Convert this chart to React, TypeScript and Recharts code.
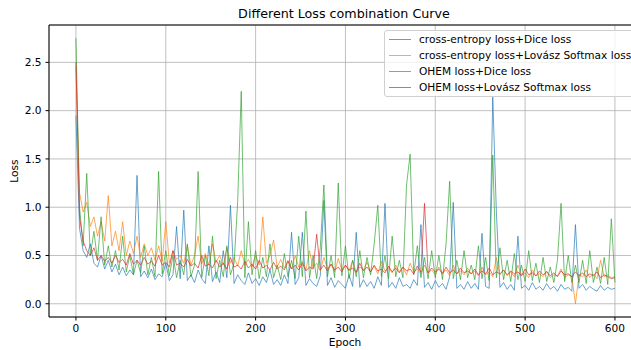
import { LineChart, Line, XAxis, YAxis, CartesianGrid, ReferenceLine } from 'recharts';

// Epochs sampled every 4 (0..600)
const epochs = Array.from({ length: 151 }, (_, i) => i * 4);

// cross-entropy loss + Dice loss
const ceDice = [
  1.95, 0.78, 0.55, 0.48, 0.62, 0.42, 0.38, 0.5, 0.36, 0.45,
  0.33, 0.41, 0.3, 0.38, 0.29, 0.35, 0.3, 1.33, 0.28, 0.34,
  0.27, 0.36, 0.25, 0.31, 0.28, 0.42, 0.24, 0.3, 0.8, 0.26,
  0.97, 0.24, 0.3, 0.22, 0.35, 0.26, 0.21, 0.6, 0.23, 0.33,
  0.22, 0.55, 0.27, 1.02, 0.21, 0.3, 0.24, 0.2, 0.32, 0.21,
  0.26, 0.19, 0.28, 0.22, 0.35, 0.2, 0.25, 0.19, 0.3, 0.21,
  0.74, 0.2, 0.27, 0.74, 0.19, 0.26, 0.21, 0.18, 0.29, 1.07,
  0.19, 0.27, 0.17, 0.24, 0.2, 0.16, 0.3, 0.18, 0.74, 0.17,
  0.25, 0.18, 0.23, 0.16, 0.28, 0.19, 1.04, 0.17, 0.22, 0.16,
  0.27, 0.18, 0.2, 0.16, 0.25, 0.19, 0.82, 0.17, 0.22, 0.15,
  0.24, 0.17, 0.21, 0.15, 0.28, 1.05, 0.16, 0.2, 0.15, 0.23,
  0.16, 0.21, 0.15, 0.73, 0.18, 0.16, 2.14, 0.95, 0.17, 0.22,
  0.15, 0.2, 0.14, 0.7, 0.16, 0.19, 0.14, 0.22, 0.15, 0.18,
  0.14, 0.21, 0.15, 0.18, 0.13, 0.2, 0.15, 0.17, 0.13, 0.82,
  0.16, 0.2, 0.14, 0.18, 0.15, 0.13, 0.19, 0.14, 0.17, 0.15,
  0.16,
];

// cross-entropy loss + Lovász Softmax loss
const ceLovasz = [
  2.45, 1.15, 0.95, 1.05, 0.8, 0.9, 0.7, 0.85, 0.65, 1.12,
  0.6, 0.75, 0.55, 0.85, 0.5, 0.65, 0.52, 0.7, 0.48, 0.62,
  0.5, 0.58, 0.45, 0.6, 0.44, 0.85, 0.42, 0.55, 0.46, 0.5,
  0.42, 0.6, 0.4, 0.5, 0.7, 0.41, 0.52, 0.4, 0.62, 0.43,
  0.5, 0.4, 0.58, 0.42, 0.48, 0.39, 0.55, 0.4, 0.46, 0.38,
  0.5, 0.4, 0.9, 0.42, 0.5, 0.66, 0.38, 0.46, 0.37, 0.45,
  0.36, 0.5, 0.38, 0.44, 0.35, 0.55, 0.37, 0.42, 0.34, 0.48,
  0.36, 0.41, 0.33, 0.47, 0.35, 0.4, 0.34, 0.45, 0.32, 0.38,
  0.35, 0.43, 0.33, 0.39, 0.31, 0.44, 0.34, 0.37, 0.32, 0.4,
  0.33, 0.38, 0.3, 0.42, 0.33, 0.36, 0.31, 0.4, 0.32, 0.35,
  0.3, 0.38, 0.32, 0.35, 0.29, 0.4, 0.31, 0.34, 0.3, 0.37,
  0.31, 0.34, 0.29, 0.38, 0.3, 0.33, 0.28, 0.48, 0.3, 0.35,
  0.29, 0.33, 0.28, 0.4, 0.3, 0.32, 0.27, 0.35, 0.29, 0.31,
  0.28, 0.34, 0.27, 0.3, 0.29, 0.36, 0.27, 0.3, 0.28, 0.0,
  0.3, 0.28, 0.35, 0.27, 0.31, 0.26, 0.45, 0.28, 0.3, 0.27,
  0.28,
];

// OHEM loss + Dice loss
const ohemDice = [
  2.75, 1.0, 0.6, 1.35, 0.5, 0.75, 0.45, 0.9, 0.4, 0.6,
  0.38, 0.55, 0.35, 0.7, 0.33, 0.5, 0.3, 0.45, 0.32, 0.6,
  0.3, 0.48, 0.28, 1.37, 0.31, 0.55, 0.29, 0.5, 0.27, 0.45,
  0.3, 0.62, 0.28, 0.4, 1.37, 0.27, 0.5, 0.29, 0.7, 0.26,
  0.45, 0.28, 0.6, 0.3, 0.42, 1.05, 2.2, 0.27, 0.85, 0.3,
  0.55, 0.26, 0.48, 0.28, 0.62, 0.27, 0.4, 0.25, 0.52, 0.28,
  0.45, 0.26, 0.7, 0.28, 0.96, 0.27, 0.5, 0.26, 0.58, 1.23,
  0.28, 0.5, 0.27, 1.25, 0.29, 0.6, 0.26, 0.45, 0.28, 0.55,
  0.27, 0.48, 0.3, 0.62, 1.02, 0.28, 0.5, 0.26, 0.7, 0.28,
  0.45, 0.27, 1.23, 1.55, 0.3, 0.6, 0.27, 0.48, 0.26, 0.55,
  0.27, 0.5, 0.25, 0.62, 1.27, 0.26, 0.45, 0.25, 0.55, 0.27,
  0.4, 0.25, 0.6, 0.26, 0.48, 0.24, 1.54, 0.27, 0.58, 0.25,
  0.45, 0.23, 0.52, 0.25, 0.4, 0.23, 0.55, 0.24, 0.42, 0.22,
  0.48, 0.23, 0.38, 0.22, 0.45, 1.04, 0.23, 0.5, 0.22, 0.4,
  0.22, 0.45, 0.21, 0.55, 0.22, 0.38, 0.21, 0.48, 0.2, 0.88,
  0.22,
];

// OHEM loss + Lovász Softmax loss
const ohemLovasz = [
  2.5, 0.9, 0.65, 0.55, 0.5, 0.58, 0.45, 0.5, 0.44, 0.48,
  0.42, 0.5, 0.43, 0.46, 0.4, 0.52, 0.41, 0.45, 0.4, 0.48,
  0.41, 0.44, 0.39, 0.5, 0.4, 0.43, 0.38, 0.55, 0.4, 0.42,
  0.38, 0.46, 0.39, 0.42, 0.37, 0.5, 0.39, 0.41, 0.37, 0.45,
  0.38, 0.42, 0.36, 0.48, 0.38, 0.4, 0.36, 0.44, 0.37, 0.41,
  0.36, 0.45, 0.37, 0.4, 0.35, 0.43, 0.36, 0.39, 0.35, 0.44,
  0.36, 0.4, 0.35, 0.42, 0.34, 0.38, 0.36, 0.72, 0.35, 0.4,
  0.34, 0.41, 0.35, 0.38, 0.33, 0.4, 0.35, 0.37, 0.33, 0.42,
  0.34, 0.38, 0.33, 0.4, 0.34, 0.36, 0.32, 0.39, 0.33, 0.37,
  0.32, 0.38, 0.34, 0.36, 0.31, 0.39, 0.33, 1.04, 0.32, 0.37,
  0.33, 0.36, 0.31, 0.38, 0.32, 0.35, 0.31, 0.37, 0.32, 0.34,
  0.31, 0.36, 0.3, 0.34, 0.31, 0.37, 0.3, 0.33, 0.31, 0.35,
  0.3, 0.34, 0.31, 0.33, 0.29, 0.36, 0.3, 0.32, 0.29, 0.34,
  0.3, 0.33, 0.29, 0.32, 0.28, 0.34, 0.3, 0.31, 0.28, 0.33,
  0.29, 0.32, 0.28, 0.31, 0.29, 0.33, 0.27, 0.3, 0.28, 0.26,
  0.27,
];

const xTicks = [0, 100, 200, 300, 400, 500, 600];
const yTicks = [0, 0.5, 1.0, 1.5, 2.0, 2.5];
const Y_MIN = -0.137;
const Y_MAX = 2.887;

const series = [
  { key: 'ceDice', name: 'cross-entropy loss+Dice loss', color: '#1f77b4' },
  { key: 'ceLovasz', name: 'cross-entropy loss+Lovász Softmax loss', color: '#ff7f0e' },
  { key: 'ohemDice', name: 'OHEM loss+Dice loss', color: '#2ca02c' },
  { key: 'ohemLovasz', name: 'OHEM loss+Lovász Softmax loss', color: '#d62728' },
];

const data = epochs.map((e, i) => ({
  epoch: e,
  ceDice: ceDice[i],
  ceLovasz: ceLovasz[i],
  ohemDice: ohemDice[i],
  ohemLovasz: ohemLovasz[i],
}));

const font = "'DejaVu Sans', sans-serif";

export default function App() {
  const tick = { fill: '#000', fontSize: 10.6, fontFamily: font };
  return (
    <div style={{ position: 'fixed', left: 0, top: 0, width: 631, height: 350, overflow: 'hidden', background: '#fff', fontFamily: font }}>
      <LineChart width={650} height={350} data={data} margin={{ top: 25, right: 9, left: 0, bottom: 0 }}>
        <CartesianGrid stroke="#b0b0b0" strokeWidth={0.8} />
        <XAxis
          dataKey="epoch" type="number" domain={[-30, 629]} ticks={xTicks}
          height={33} tick={tick} tickSize={3.5} tickMargin={4}
          stroke="#000" allowDataOverflow
        />
        <YAxis
          type="number" domain={[Y_MIN, Y_MAX]} ticks={yTicks} width={49}
          tick={tick} tickSize={3.5} tickMargin={4} stroke="#000"
          tickFormatter={(v: number) => v.toFixed(1)} allowDataOverflow
        />
        <ReferenceLine y={Y_MAX} stroke="#000" strokeWidth={1} />
        {series.map(s => (
          <Line
            key={s.key} type="linear" dataKey={s.key} name={s.name}
            stroke={s.color} strokeWidth={0.8} strokeOpacity={0.85}
            dot={false} activeDot={false} isAnimationActive={false}
          />
        ))}
      </LineChart>

      {/* Title and axis labels */}
      <div style={{ position: 'absolute', left: 344, top: 6, transform: 'translateX(-50%)', fontSize: 12.7, whiteSpace: 'nowrap' }}>
        Different Loss combination Curve
      </div>
      <div style={{ position: 'absolute', left: 345, top: 336, transform: 'translateX(-50%)', fontSize: 10.6 }}>Epoch</div>
      <div style={{ position: 'absolute', left: 14, top: 171, transform: 'translate(-50%, -50%) rotate(-90deg)', fontSize: 10.6 }}>Loss</div>

      {/* Legend */}
      <div style={{
        position: 'absolute', left: 384, top: 30, width: 260, height: 67,
        border: '1px solid #d0d0d0', borderRadius: 3, background: 'rgba(255,255,255,0.8)',
        boxSizing: 'border-box', padding: '0 0 0 4px',
      }}>
        {series.map(s => (
          <div key={s.key} style={{ display: 'flex', alignItems: 'center', height: 16, fontSize: 10.6, color: '#000', whiteSpace: 'nowrap' }}>
            <span style={{ display: 'inline-block', width: 22, height: 0, borderTop: `1px solid ${s.color}`, opacity: 0.7, marginRight: 8 }} />
            {s.name}
          </div>
        ))}
      </div>
    </div>
  );
}
